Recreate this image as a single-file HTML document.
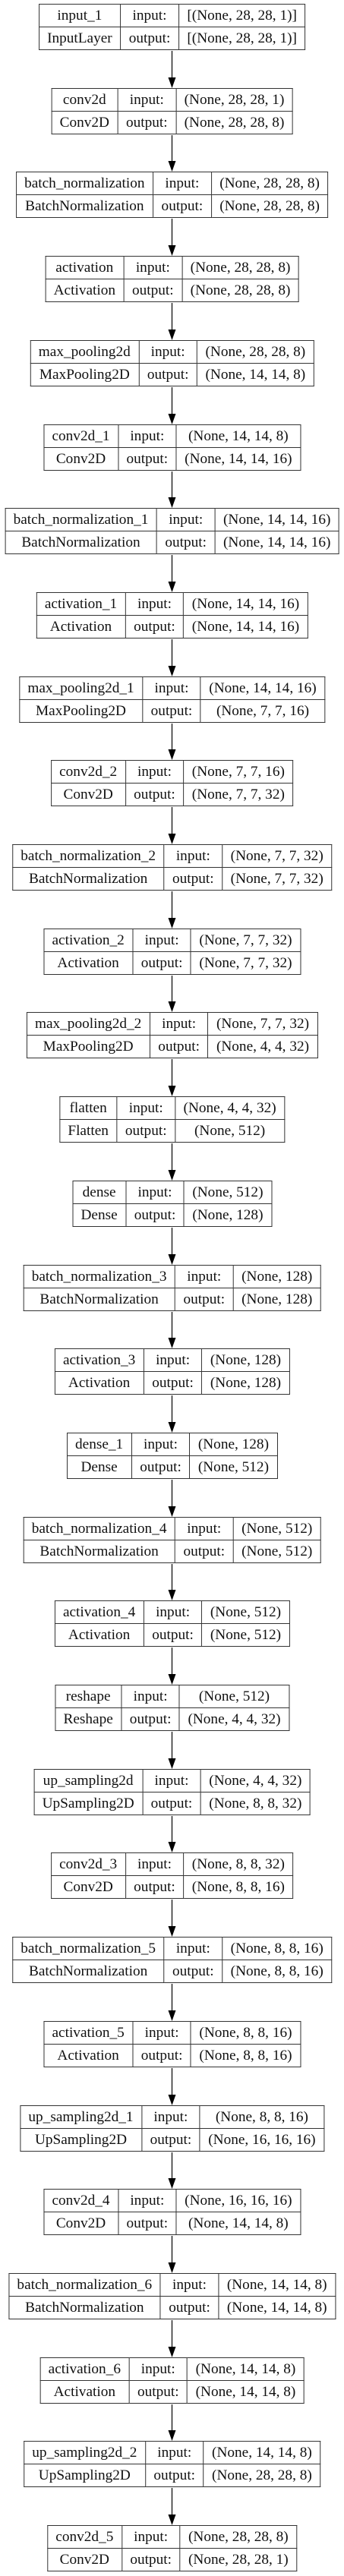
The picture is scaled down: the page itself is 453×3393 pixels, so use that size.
<!DOCTYPE html>
<html><head><meta charset="utf-8"><style>
html,body{margin:0;padding:0;background:#fff;}
body{width:453px;height:3393px;position:relative;overflow:hidden;}
table{position:absolute;left:226.5px;transform:translateX(-50%);border-collapse:collapse;background:#fff;font-family:"Liberation Serif",serif;font-size:19.3px;color:#111;}
td{border:1.2px solid #333;padding:0 10.5px;height:29px;text-align:center;white-space:nowrap;line-height:29px;}
svg{position:absolute;left:0;top:0;}
</style></head><body>
<svg width="453" height="3393" id="arr"></svg>

<table style="top:5px"><tr><td>input_1</td><td>input:</td><td>[(None, 28, 28, 1)]</td></tr><tr><td>InputLayer</td><td>output:</td><td>[(None, 28, 28, 1)]</td></tr></table>
<table style="top:116px"><tr><td>conv2d</td><td>input:</td><td>(None, 28, 28, 1)</td></tr><tr><td>Conv2D</td><td>output:</td><td>(None, 28, 28, 8)</td></tr></table>
<table style="top:226px"><tr><td>batch_normalization</td><td>input:</td><td>(None, 28, 28, 8)</td></tr><tr><td>BatchNormalization</td><td>output:</td><td>(None, 28, 28, 8)</td></tr></table>
<table style="top:337px"><tr><td>activation</td><td>input:</td><td>(None, 28, 28, 8)</td></tr><tr><td>Activation</td><td>output:</td><td>(None, 28, 28, 8)</td></tr></table>
<table style="top:448px"><tr><td>max_pooling2d</td><td>input:</td><td>(None, 28, 28, 8)</td></tr><tr><td>MaxPooling2D</td><td>output:</td><td>(None, 14, 14, 8)</td></tr></table>
<table style="top:559px"><tr><td>conv2d_1</td><td>input:</td><td>(None, 14, 14, 8)</td></tr><tr><td>Conv2D</td><td>output:</td><td>(None, 14, 14, 16)</td></tr></table>
<table style="top:669px"><tr><td>batch_normalization_1</td><td>input:</td><td>(None, 14, 14, 16)</td></tr><tr><td>BatchNormalization</td><td>output:</td><td>(None, 14, 14, 16)</td></tr></table>
<table style="top:780px"><tr><td>activation_1</td><td>input:</td><td>(None, 14, 14, 16)</td></tr><tr><td>Activation</td><td>output:</td><td>(None, 14, 14, 16)</td></tr></table>
<table style="top:891px"><tr><td>max_pooling2d_1</td><td>input:</td><td>(None, 14, 14, 16)</td></tr><tr><td>MaxPooling2D</td><td>output:</td><td>(None, 7, 7, 16)</td></tr></table>
<table style="top:1001px"><tr><td>conv2d_2</td><td>input:</td><td>(None, 7, 7, 16)</td></tr><tr><td>Conv2D</td><td>output:</td><td>(None, 7, 7, 32)</td></tr></table>
<table style="top:1112px"><tr><td>batch_normalization_2</td><td>input:</td><td>(None, 7, 7, 32)</td></tr><tr><td>BatchNormalization</td><td>output:</td><td>(None, 7, 7, 32)</td></tr></table>
<table style="top:1223px"><tr><td>activation_2</td><td>input:</td><td>(None, 7, 7, 32)</td></tr><tr><td>Activation</td><td>output:</td><td>(None, 7, 7, 32)</td></tr></table>
<table style="top:1333px"><tr><td>max_pooling2d_2</td><td>input:</td><td>(None, 7, 7, 32)</td></tr><tr><td>MaxPooling2D</td><td>output:</td><td>(None, 4, 4, 32)</td></tr></table>
<table style="top:1444px"><tr><td>flatten</td><td>input:</td><td>(None, 4, 4, 32)</td></tr><tr><td>Flatten</td><td>output:</td><td>(None, 512)</td></tr></table>
<table style="top:1555px"><tr><td>dense</td><td>input:</td><td>(None, 512)</td></tr><tr><td>Dense</td><td>output:</td><td>(None, 128)</td></tr></table>
<table style="top:1666px"><tr><td>batch_normalization_3</td><td>input:</td><td>(None, 128)</td></tr><tr><td>BatchNormalization</td><td>output:</td><td>(None, 128)</td></tr></table>
<table style="top:1776px"><tr><td>activation_3</td><td>input:</td><td>(None, 128)</td></tr><tr><td>Activation</td><td>output:</td><td>(None, 128)</td></tr></table>
<table style="top:1887px"><tr><td>dense_1</td><td>input:</td><td>(None, 128)</td></tr><tr><td>Dense</td><td>output:</td><td>(None, 512)</td></tr></table>
<table style="top:1998px"><tr><td>batch_normalization_4</td><td>input:</td><td>(None, 512)</td></tr><tr><td>BatchNormalization</td><td>output:</td><td>(None, 512)</td></tr></table>
<table style="top:2108px"><tr><td>activation_4</td><td>input:</td><td>(None, 512)</td></tr><tr><td>Activation</td><td>output:</td><td>(None, 512)</td></tr></table>
<table style="top:2219px"><tr><td>reshape</td><td>input:</td><td>(None, 512)</td></tr><tr><td>Reshape</td><td>output:</td><td>(None, 4, 4, 32)</td></tr></table>
<table style="top:2330px"><tr><td>up_sampling2d</td><td>input:</td><td>(None, 4, 4, 32)</td></tr><tr><td>UpSampling2D</td><td>output:</td><td>(None, 8, 8, 32)</td></tr></table>
<table style="top:2440px"><tr><td>conv2d_3</td><td>input:</td><td>(None, 8, 8, 32)</td></tr><tr><td>Conv2D</td><td>output:</td><td>(None, 8, 8, 16)</td></tr></table>
<table style="top:2551px"><tr><td>batch_normalization_5</td><td>input:</td><td>(None, 8, 8, 16)</td></tr><tr><td>BatchNormalization</td><td>output:</td><td>(None, 8, 8, 16)</td></tr></table>
<table style="top:2662px"><tr><td>activation_5</td><td>input:</td><td>(None, 8, 8, 16)</td></tr><tr><td>Activation</td><td>output:</td><td>(None, 8, 8, 16)</td></tr></table>
<table style="top:2773px"><tr><td>up_sampling2d_1</td><td>input:</td><td>(None, 8, 8, 16)</td></tr><tr><td>UpSampling2D</td><td>output:</td><td>(None, 16, 16, 16)</td></tr></table>
<table style="top:2883px"><tr><td>conv2d_4</td><td>input:</td><td>(None, 16, 16, 16)</td></tr><tr><td>Conv2D</td><td>output:</td><td>(None, 14, 14, 8)</td></tr></table>
<table style="top:2994px"><tr><td>batch_normalization_6</td><td>input:</td><td>(None, 14, 14, 8)</td></tr><tr><td>BatchNormalization</td><td>output:</td><td>(None, 14, 14, 8)</td></tr></table>
<table style="top:3105px"><tr><td>activation_6</td><td>input:</td><td>(None, 14, 14, 8)</td></tr><tr><td>Activation</td><td>output:</td><td>(None, 14, 14, 8)</td></tr></table>
<table style="top:3215px"><tr><td>up_sampling2d_2</td><td>input:</td><td>(None, 14, 14, 8)</td></tr><tr><td>UpSampling2D</td><td>output:</td><td>(None, 28, 28, 8)</td></tr></table>
<table style="top:3326px"><tr><td>conv2d_5</td><td>input:</td><td>(None, 28, 28, 8)</td></tr><tr><td>Conv2D</td><td>output:</td><td>(None, 28, 28, 1)</td></tr></table>

<script>
var tops=[5,116,226,337,448,559,669,780,891,1001,1112,1223,1333,1444,1555,1666,1776,1887,1998,2108,2219,2330,2440,2551,2662,2773,2883,2994,3105,3215,3326];
var s='';
for(var i=0;i<tops.length-1;i++){
 var y1=tops[i]+62,y2=tops[i+1];
 s+='<line x1="226.5" y1="'+y1+'" x2="226.5" y2="'+(y2-13)+'" stroke="#000" stroke-width="1.2"/>';
 s+='<polygon points="221.5,'+(y2-14)+' 231.5,'+(y2-14)+' 226.5,'+y2+'" fill="#000"/>';
}
document.getElementById('arr').innerHTML=s;
</script>
</body></html>
